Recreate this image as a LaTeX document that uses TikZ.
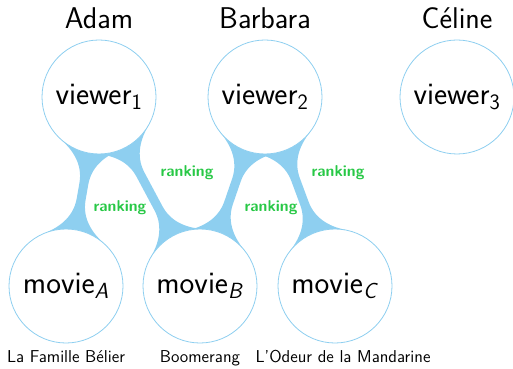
\documentclass[tikz,border=0pt]{standalone}
\usetikzlibrary{calc}
\definecolor{linkblue}{RGB}{142,207,240}
\definecolor{rankgreen}{RGB}{40,200,70}
\def\rr{57}\def\rL{88}\def\rLm{68}\def\kk{14}\def\dd{32}\def\ww{4.5}
\newcommand\flink[2]{%
\fill[linkblue] let \p1=(#1), \p2=(#2), \n1={atan2(\y2-\y1,\x2-\x1)} in
 ($(#1)+(\n1+\dd:\rr)$) .. controls ($(#1)+(\n1+\dd:\rr)+(\n1+\dd-90:\kk)$) and ($(#1)+(\n1:\rLm)+(\n1+90:\ww)$) .. ($(#1)+(\n1:\rL)+(\n1+90:\ww)$)
 -- ($(#2)+(\n1+180:\rL)+(\n1+90:\ww)$) .. controls ($(#2)+(\n1+180:\rLm)+(\n1+90:\ww)$) and ($(#2)+(\n1+180-\dd:\rr)+(\n1+270-\dd:\kk)$) .. ($(#2)+(\n1+180-\dd:\rr)$)
 -- (#2) -- ($(#2)+(\n1+180+\dd:\rr)$) .. controls ($(#2)+(\n1+180+\dd:\rr)+(\n1+90+\dd:\kk)$) and ($(#2)+(\n1+180:\rLm)+(\n1-90:\ww)$) .. ($(#2)+(\n1+180:\rL)+(\n1-90:\ww)$)
 -- ($(#1)+(\n1:\rL)+(\n1-90:\ww)$) .. controls ($(#1)+(\n1:\rLm)+(\n1-90:\ww)$) and ($(#1)+(\n1-\dd:\rr)+(\n1-\dd+90:\kk)$) .. ($(#1)+(\n1-\dd:\rr)$)
 -- (#1) -- cycle;}
\begin{document}
\begin{tikzpicture}[x=0.75pt,y=0.75pt,
  every node/.style={font=\sffamily},
  ent/.style={circle,draw=linkblue,line width=0.6pt,fill=white,minimum size=85.5pt,inner sep=0pt,font=\sffamily\fontsize{23.5}{26}\selectfont},
  who/.style={anchor=base,font=\sffamily\fontsize{22.5}{25}\selectfont},
  film/.style={anchor=base,font=\sffamily\fontsize{12.9}{14}\selectfont},
  rank/.style={text=rankgreen,font=\sffamily\bfseries\fontsize{11.8}{13}\selectfont}]
\useasboundingbox (0,0) rectangle (513,368);
\coordinate (c1) at (99,271);
\coordinate (c2) at (265,271);
\coordinate (c3) at (457,271);
\coordinate (cA) at (66,82);
\coordinate (cB) at (200,82);
\coordinate (cC) at (335,82);
\flink{c1}{cA}
\flink{c1}{cB}
\flink{c2}{cB}
\flink{c2}{cC}
\node[ent] (v1) at (c1) {viewer\textsubscript{1}};
\node[ent] (v2) at (c2) {viewer\textsubscript{2}};
\node[ent] (v3) at (c3) {viewer\textsubscript{3}};
\node[ent] (mA) at (cA) {movie\textsubscript{\textit{A}}};
\node[ent] (mB) at (cB) {movie\textsubscript{\textit{B}}};
\node[ent] (mC) at (cC) {movie\textsubscript{\textit{C}}};
\node[who] (nA) at (99,339) {Adam};
\node[who] (nB) at (265,339) {Barbara};
\node[who] (nC) at (457,339) {Céline};
\node[film] (tA) at (66,6) {La Famille Bélier};
\node[film] (tB) at (200,6) {Boomerang};
\node[film] (tC) at (343,6) {L'Odeur de la Mandarine};
\node[rank] (r1) at (187,195) {ranking};
\node[rank] (r2) at (120,160) {ranking};
\node[rank] (r3) at (271,160) {ranking};
\node[rank] (r4) at (338,195) {ranking};
\end{tikzpicture}
\end{document}
